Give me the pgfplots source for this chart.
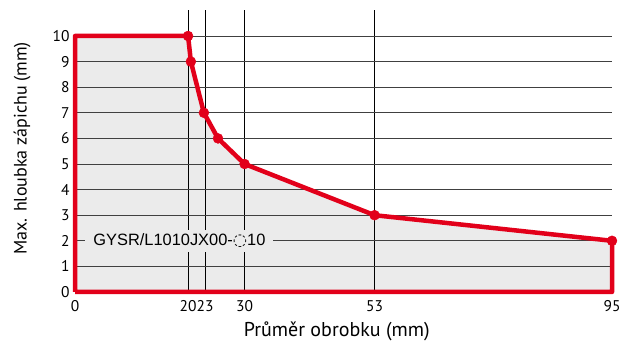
\documentclass[border=0pt]{standalone}
\usepackage{pgfplots}
\pgfplotsset{compat=1.18}
\usepackage{fontspec}
\setmainfont{PT Sans}
\newfontfamily\arial{Liberation Sans}
\newfontfamily\dejavu{DejaVu Sans}
\definecolor{cred}{HTML}{E2001A}
\definecolor{cfill}{HTML}{EBEBEB}
\begin{document}
\begin{tikzpicture}
\begin{axis}[
  at={(75pt,53pt)}, anchor=south west,
  scale only axis, width=537pt, height=281.6pt,
  xmin=0, xmax=95, ymin=0, ymax=11,
  xtick={20,23,30,53}, extra x ticks={0,95}, extra x tick style={grid=none},
  ytick={0,1,...,10},
  xmajorgrids, ymajorgrids,
  x grid style={black, line width=0.8pt},
  y grid style={black!75, line width=0.8pt},
  axis line style={draw=none},
  major tick length=0pt,
  /pgf/number format/assume math mode=true,
  tick label style={font=\fontsize{15.5}{15.5}\selectfont},
  xticklabel style={yshift=-5pt},
  yticklabel style={xshift=-2pt},
  xlabel={Průměr obrobku (mm)}, ylabel={Max. hloubka zápichu (mm)},
  xlabel style={font=\fontsize{20}{20}\selectfont, at={(axis description cs:0.4875,-0.1385)}, anchor=center},
  ylabel style={font=\fontsize{18}{18}\selectfont, at={(axis description cs:-0.0987,0.51)}, anchor=center},
  set layers,
  clip=false,
]
\addplot[fill=cfill, draw=none, on layer=axis background] coordinates {(0,0) (0,10) (20,10) (20.5,9) (22.8,7) (25.3,6) (30,5) (53,3) (95,2) (95,0) (0,0)};
\addplot[draw=cred, line width=4.5pt, line join=round, mark=none] coordinates {(0,0) (0,10) (20,10) (20.5,9) (22.8,7) (25.3,6) (30,5) (53,3) (95,2) (95,0) (0,0)};
\addplot[only marks, mark=*, mark size=5pt, cred] coordinates {(20,10) (20.5,9) (22.8,7) (25.3,6) (30,5) (53,3) (95,2)};
\node[fill=cfill, inner xsep=8pt, inner ysep=4pt, anchor=west, font=\arial\fontsize{16.4}{16.4}\selectfont] at (axis cs:1.8,2) {GYSR/L1010JX00-{\dejavu ◌}10};
\end{axis}
\pgfresetboundingbox
\path[use as bounding box] (0,0) rectangle (632pt,345pt);
\end{tikzpicture}
\end{document}
